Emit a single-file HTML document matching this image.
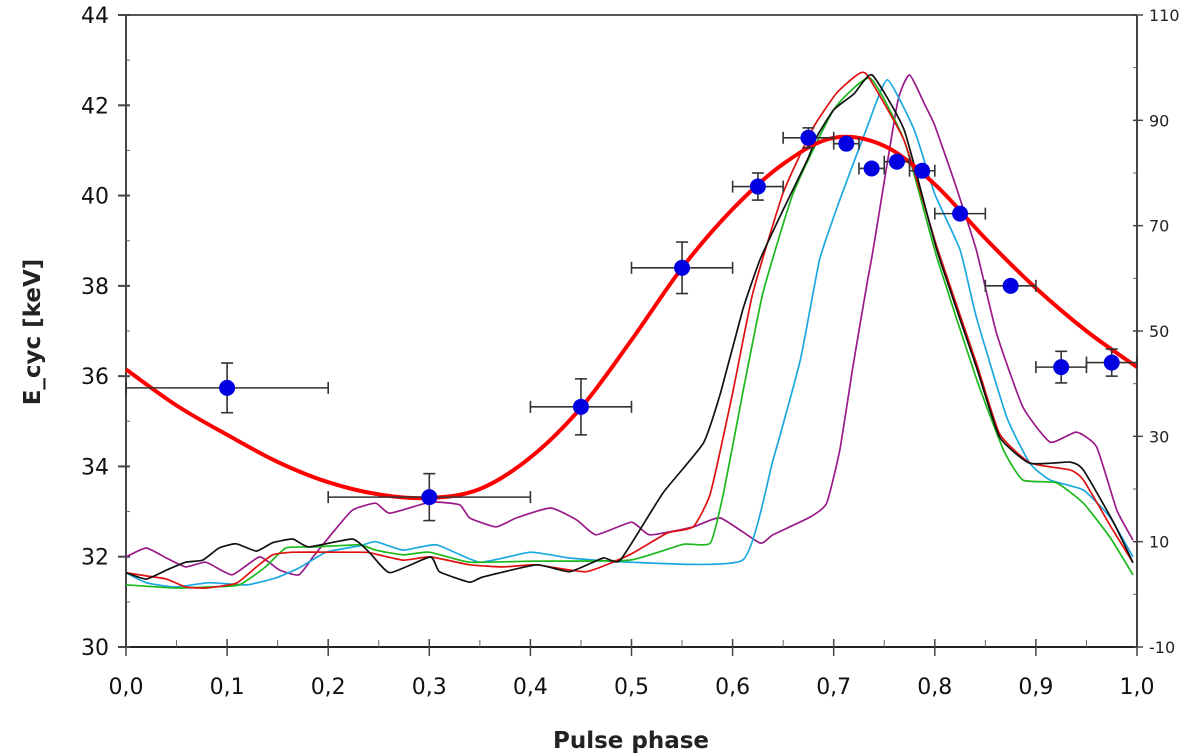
<!DOCTYPE html>
<html><head><meta charset="utf-8"><style>
body{margin:0;background:#fff;}
svg{display:block;font-family:"DejaVu Sans","Liberation Sans",sans-serif;}
</style></head><body>
<svg id="chart" width="1200" height="756" viewBox="0 0 1200 756"></svg>
<script>
const leftTicks=[30,32,34,36,38,40,42,44];
const rightTicks=[-10,10,30,50,70,90,110];
const xTicks=[0,0.1,0.2,0.3,0.4,0.5,0.6,0.7,0.8,0.9,1.0];
const ptX=[0.1,0.3,0.45,0.55,0.625,0.675,0.7125,0.7375,0.7625,0.7875,0.825,0.875,0.925,0.975];
const ptY=[35.74,33.32,35.32,38.4,40.2,41.28,41.15,40.6,40.75,40.55,39.6,38.0,36.2,36.3];
const ptXerr=[0.1,0.1,0.05,0.05,0.025,0.025,0.0125,0.0125,0.0125,0.0125,0.025,0.025,0.025,0.025];
const ptYerr=[0.55,0.52,0.62,0.57,0.3,0.22,0.1,0.1,0.1,0.1,0.1,0.1,0.35,0.3];
const fitX=[0,0.05,0.1,0.15,0.2,0.25,0.3,0.35,0.4,0.45,0.5,0.55,0.6,0.65,0.7,0.75,0.8,0.85,0.9,0.95,1.0];
const fitY=[36.15,35.35,34.7,34.1,33.65,33.38,33.3,33.5,34.2,35.3,36.8,38.4,39.7,40.7,41.28,41.1,40.25,39.05,37.95,37.0,36.2];
const blackX=[0,.02,.04,.059,.076,.092,.109,.129,.145,.165,.181,.224,.241,.261,.301,.31,.34,.353,.406,.439,.472,.489,.531,.571,.588,.61,.627,.65,.674,.683,.70,.72,.738,.77,.802,.841,.864,.894,.934,.947,.977,.996];
const blackY=[4.1,2.9,4.6,6.1,6.5,8.8,9.6,8.2,9.8,10.5,9,10.5,7.9,4.1,7.1,4.3,2.3,3.3,5.6,4.3,6.9,6.5,19.2,28.7,38.2,54,63.5,73,82.5,86.8,92,95,98.6,88,65.4,43.2,29.9,24.9,25.1,23.6,13.6,6.0];
const redX=[0,.02,.04,.059,.079,.109,.129,.145,.165,.227,.241,.274,.301,.34,.373,.406,.455,.498,.535,.561,.578,.6,.62,.65,.68,.703,.723,.733,.77,.802,.841,.864,.894,.934,.947,.974,.996];
const redY=[4.1,3.5,2.9,1.4,1.2,2.1,5.2,7.5,8,8,7.9,6.5,7.1,5.6,5.2,5.6,4.3,7.5,11.6,12.8,19.2,38.2,57.2,76.2,88.7,95.2,98.6,98.6,86,66,44,30.5,25,23.6,21.7,12.9,6.0];
const greenX=[0,.049,.082,.112,.138,.158,.185,.231,.247,.274,.3,.34,.4,.498,.551,.578,.591,.61,.63,.66,.70,.736,.77,.802,.841,.868,.887,.920,.947,.973,.996];
const greenY=[1.8,1.2,1.4,1.8,5.2,8.8,9,9.4,8.4,7.5,8,6.1,6.3,6.5,9.5,9.75,19.2,38.2,57.2,76.2,92,98,86,64,41,27.4,21.7,21.2,17.3,10.9,3.7];
const cyanX=[0,.02,.049,.082,.119,.148,.171,.198,.231,.247,.274,.307,.35,.4,.439,.498,.61,.64,.667,.686,.706,.733,.753,.78,.80,.825,.841,.871,.894,.914,.947,.973,.996];
const cyanY=[4.1,2.2,1.4,2.2,1.8,3.1,5,8,9.2,10,8.4,9.4,6.1,8,6.9,6.1,6.5,25.5,44.5,63.5,74.9,88.7,97.7,88,76,65.4,52.7,33.7,24.9,21.7,19.8,14.7,7.1];
const purpleX=[0,.02,.04,.059,.079,.105,.132,.152,.171,.185,.204,.224,.247,.261,.301,.33,.34,.366,.386,.42,.446,.465,.5,.518,.561,.588,.627,.640,.677,.693,.706,.719,.733,.739,.763,.775,.79,.80,.82,.841,.861,.887,.914,.940,.960,.980,.996];
const purpleY=[7.1,8.8,6.9,5.2,6.1,3.7,7.1,4.6,3.7,7.1,11.6,16,17.3,15.4,17.5,17,14.5,12.8,14.5,16.4,14.1,11.3,13.7,11.3,12.8,14.5,9.75,11.3,14.7,17.3,27.4,43.2,59.1,65.4,93.3,98.6,93,89,78,65.4,49.6,35.6,28.9,30.8,28,16,10.3];

const X0=126,X1=1137,Y0=647,Y1=15;
const sx=v=>X0+(X1-X0)*v;
const sy=v=>Y0-(Y0-Y1)*(v-30)/14;
const sy2=v=>Y0-(Y0-Y1)*(v+10)/120;
const svg=document.getElementById('chart');
const NS='http://www.w3.org/2000/svg';
function mk(tag,attrs,parent){const e=document.createElementNS(NS,tag);for(const k in attrs)e.setAttribute(k,attrs[k]);(parent||svg).appendChild(e);return e;}
function smooth(P,t){
  let d='M'+P[0][0].toFixed(1)+','+P[0][1].toFixed(1);
  for(let i=0;i<P.length-1;i++){
    const p0=P[Math.max(i-1,0)],p1=P[i],p2=P[i+1],p3=P[Math.min(i+2,P.length-1)];
    d+=' C'+(p1[0]+(p2[0]-p0[0])*t).toFixed(1)+','+(p1[1]+(p2[1]-p0[1])*t).toFixed(1)+' '+(p2[0]-(p3[0]-p1[0])*t).toFixed(1)+','+(p2[1]-(p3[1]-p1[1])*t).toFixed(1)+' '+p2[0].toFixed(1)+','+p2[1].toFixed(1);
  }
  return d;
}

let el=mk('line',{x1:X0,y1:Y1,x2:X1,y2:Y1,stroke:'#555','stroke-width':2});

el=mk('line',{x1:X0,y1:Y1,x2:X0,y2:Y0,stroke:'#444','stroke-width':2});

el=mk('line',{x1:X1,y1:Y1,x2:X1,y2:Y0,stroke:'#444','stroke-width':2});

el=mk('line',{x1:X0,y1:Y0,x2:X1,y2:Y0,stroke:'#222','stroke-width':2});


leftTicks.forEach((t,i)=>{
  const y=sy(t);
  mk('line',{x1:X0-8,y1:y,x2:X0+4,y2:y,stroke:'#444','stroke-width':2});
  if(i<leftTicks.length-1) mk('line',{x1:X0,y1:sy(t+1),x2:X0+4,y2:sy(t+1),stroke:'#666','stroke-width':1});
  const tx=mk('text',{x:X0-17,y:y+8,'text-anchor':'end','font-size':22,fill:'#111'});
  tx.textContent=t;
  
});
rightTicks.forEach((t,i)=>{
  const y=sy2(t);
  mk('line',{x1:X1-4,y1:y,x2:X1+6,y2:y,stroke:'#444','stroke-width':1.5});
  if(i<rightTicks.length-1) mk('line',{x1:X1-4,y1:sy2(t+10),x2:X1,y2:sy2(t+10),stroke:'#666','stroke-width':1});
  const tx=mk('text',{x:X1+12,y:y+6,'font-size':16,fill:'#222'});
  tx.textContent=t;
  
});
xTicks.forEach((t,i)=>{
  const x=sx(t);
  mk('line',{x1:x,y1:Y0-8,x2:x,y2:Y0+9,stroke:'#444','stroke-width':1.5});
  if(i<xTicks.length-1) mk('line',{x1:sx(t+0.05),y1:Y0-7,x2:sx(t+0.05),y2:Y0,stroke:'#666','stroke-width':1});
  const tx=mk('text',{x:x,y:Y0+47,'text-anchor':'middle','font-size':22,fill:'#111'});
  tx.textContent=t.toFixed(1).replace('.',',');
  
});
el=mk('text',{x:631,y:748,'text-anchor':'middle','font-size':23,'font-weight':'bold',fill:'#222'});
el.textContent='Pulse phase';

el=mk('text',{x:0,y:0,'text-anchor':'middle','font-size':23,'font-weight':'bold',fill:'#222',transform:'translate(40,332) rotate(-90)'});
el.textContent='E_cyc  [keV]';


function line(xs,ys,scale,color,w,name){
  const P=xs.map((x,i)=>[sx(x),scale(ys[i])]);
  const p=mk('path',{d:smooth(P,0.08),fill:'none',stroke:color,'stroke-width':w,'stroke-linejoin':'round'});
  
  
}
line(purpleX,purpleY,sy2,'#9a1a8a',1.7,'pulse-profile-purple');
line(cyanX,cyanY,sy2,'#1aa8e0',1.7,'pulse-profile-cyan');
line(greenX,greenY,sy2,'#1ab81a',1.7,'pulse-profile-green');
line(redX,redY,sy2,'#e01010',1.7,'pulse-profile-red');
line(blackX,blackY,sy2,'#111',1.7,'pulse-profile-black');

(function(){
  const P=fitX.map((x,i)=>[sx(x),sy(fitY[i])]);
  const p=mk('path',{d:smooth(P,1/6),fill:'none',stroke:'#f00','stroke-width':4});
  
  
})();

ptX.forEach((x,i)=>{
  const g=mk('g',{});
  
  
  const cx=sx(x),cy=sy(ptY[i]);
  const xl=sx(x-ptXerr[i]),xr=sx(x+ptXerr[i]),yt=sy(ptY[i]+ptYerr[i]),yb=sy(ptY[i]-ptYerr[i]);
  mk('line',{x1:xl,y1:cy,x2:xr,y2:cy,stroke:'#333','stroke-width':1.6},g);
  mk('line',{x1:xl,y1:cy-6,x2:xl,y2:cy+6,stroke:'#333','stroke-width':1.6},g);
  mk('line',{x1:xr,y1:cy-6,x2:xr,y2:cy+6,stroke:'#333','stroke-width':1.6},g);
  mk('line',{x1:cx,y1:yt,x2:cx,y2:yb,stroke:'#333','stroke-width':1.6},g);
  mk('line',{x1:cx-6,y1:yt,x2:cx+6,y2:yt,stroke:'#333','stroke-width':1.6},g);
  mk('line',{x1:cx-6,y1:yb,x2:cx+6,y2:yb,stroke:'#333','stroke-width':1.6},g);
  mk('circle',{cx:cx,cy:cy,r:8,fill:'#0000e0'},g);
});
</script>
</body></html>
